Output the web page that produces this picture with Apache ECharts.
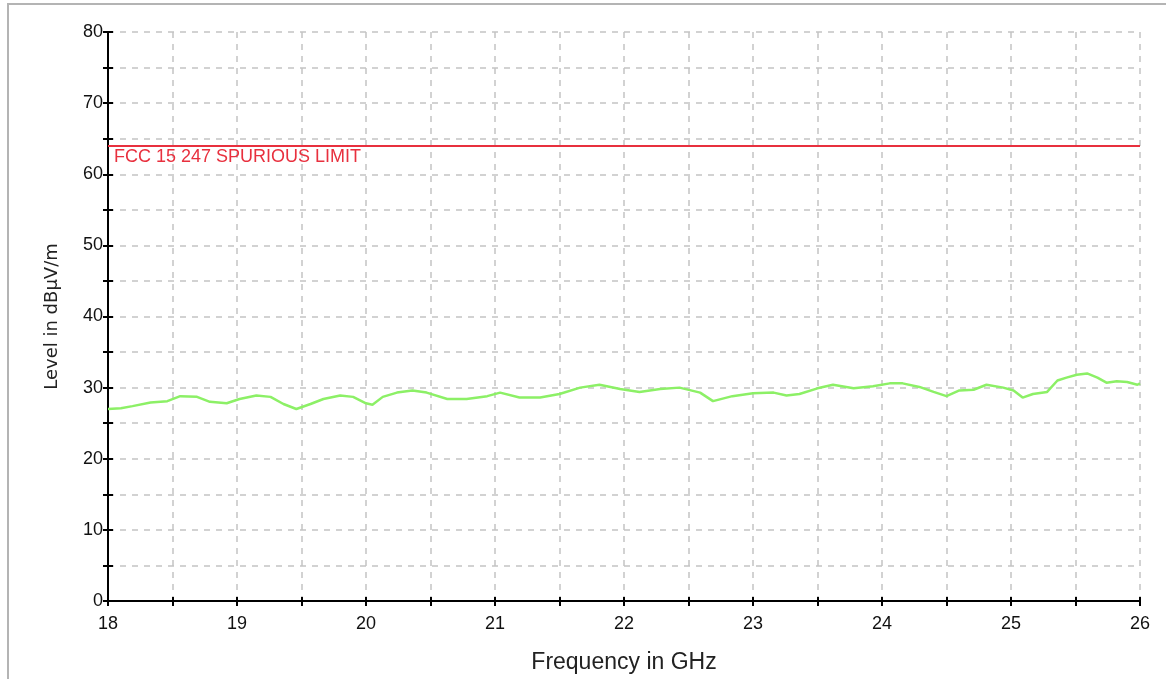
<!DOCTYPE html>
<html>
<head>
<meta charset="utf-8">
<script src="https://cdn.jsdelivr.net/npm/echarts@6/dist/echarts.min.js"></script>
<style>
  html, body { margin: 0; padding: 0; background: #fff; }
  #chart { width: 1166px; height: 679px; }
</style>
</head>
<body>
<div id="chart"></div>
<script>
// trace (GHz, dBuV/m)
var freq = [18.00, 18.10, 18.19, 18.33, 18.46, 18.56, 18.69, 18.79, 18.92, 19.02,
            19.15, 19.26, 19.36, 19.46, 19.57, 19.67, 19.80, 19.90, 20.00, 20.05,
            20.13, 20.24, 20.36, 20.47, 20.63, 20.78, 20.94, 21.04, 21.19, 21.35,
            21.50, 21.66, 21.81, 21.97, 22.12, 22.28, 22.43, 22.59, 22.69, 22.84,
            23.00, 23.16, 23.26, 23.36, 23.50, 23.62, 23.78, 23.93, 24.06, 24.16,
            24.29, 24.40, 24.50, 24.60, 24.71, 24.81, 24.94, 25.02, 25.09, 25.17,
            25.28, 25.36, 25.43, 25.51, 25.59, 25.67, 25.74, 25.82, 25.90, 25.98, 26.00];
var level = [27.0, 27.1, 27.4, 27.9, 28.1, 28.8, 28.7, 28.0, 27.8, 28.4,
             28.9, 28.7, 27.7, 27.0, 27.7, 28.4, 28.9, 28.7, 27.8, 27.6,
             28.7, 29.3, 29.6, 29.3, 28.4, 28.4, 28.8, 29.3, 28.6, 28.6,
             29.1, 30.0, 30.4, 29.8, 29.4, 29.8, 30.0, 29.3, 28.1, 28.8,
             29.2, 29.3, 28.9, 29.1, 29.9, 30.4, 29.9, 30.2, 30.6, 30.6,
             30.1, 29.4, 28.8, 29.6, 29.7, 30.4, 30.0, 29.6, 28.6, 29.1,
             29.4, 31.0, 31.4, 31.8, 32.0, 31.4, 30.7, 30.9, 30.8, 30.4, 30.6];
var limitValue = 64;
var limitName = 'FCC 15 247 SPURIOUS LIMIT';

var points = [];
for (var i = 0; i < freq.length; i++) {
    points.push([freq[i], level[i]]);
}

var gridL = 108, gridR = 26, gridT = 32, gridB = 77;
var plotW = 1166 - gridL - gridR;
var plotH = 679 - gridT - gridB;

var myEcharts = echarts.init(document.getElementById('chart'));

var tickStyle = { show: true, length: 5, lineStyle: { color: '#000', width: 2 } };
var axisLineStyle = { show: true, onZero: false, lineStyle: { color: '#000', width: 2 } };

option = {
    animation: false,
    backgroundColor: '#fff',
    textStyle: { fontFamily: 'Arial, "Liberation Sans", sans-serif' },
    graphic: [{
        type: 'rect',
        shape: { x: 8, y: 4, width: 1200, height: 700 },
        style: { fill: 'none', stroke: '#b4b4b4', lineWidth: 2 },
        silent: true, z: -1
    }],
    grid: { left: gridL, right: gridR, top: gridT, bottom: gridB },
    xAxis: [{
        type: 'value', min: 18, max: 26, interval: 0.5,
        name: 'Frequency in GHz',
        nameLocation: 'middle',
        nameGap: 50,
        nameTextStyle: { color: '#222', fontSize: 23 },
        axisLine: axisLineStyle,
        axisTick: tickStyle,
        axisLabel: {
            color: '#111', fontSize: 18, margin: 14,
            formatter: function (v) { return v % 1 === 0 ? String(v) : ''; }
        },
        splitLine: { show: true, lineStyle: { color: '#c4c4c4', type: [6, 6], width: 1.5 } }
    }, {
        // second copy moved onto the bottom edge so its ticks point into the plot
        type: 'value', min: 18, max: 26, interval: 0.5,
        position: 'top', offset: -plotH,
        axisLine: { show: false },
        axisTick: tickStyle,
        axisLabel: { show: false },
        splitLine: { show: false }
    }],
    yAxis: [{
        type: 'value', min: 0, max: 80, interval: 5,
        name: 'Level in dBµV/m',
        nameLocation: 'middle',
        nameGap: 47,
        nameTextStyle: { color: '#222', fontSize: 18, fontFamily: '"DejaVu Sans", sans-serif' },
        axisLine: axisLineStyle,
        axisTick: tickStyle,
        axisLabel: {
            color: '#111', fontSize: 18, margin: 5,
            formatter: function (v) { return v % 10 === 0 ? String(v) : ''; }
        },
        splitLine: { show: true, lineStyle: { color: '#c4c4c4', type: [6, 6], width: 1.5 } }
    }, {
        type: 'value', min: 0, max: 80, interval: 5,
        position: 'right', offset: -plotW,
        axisLine: { show: false },
        axisTick: tickStyle,
        axisLabel: { show: false },
        splitLine: { show: false }
    }],
    series: [{
        name: 'Level',
        type: 'line',
        data: points,
        showSymbol: false,
        lineStyle: { color: '#8cf066', width: 2.5 },
        markLine: {
            symbol: 'none',
            silent: true,
            data: [{ yAxis: limitValue }],
            lineStyle: { color: '#e8303e', width: 2, type: 'solid' },
            label: {
                show: true,
                formatter: limitName,
                position: 'insideStartBottom',
                distance: [6, 2],
                color: '#e8303e',
                fontSize: 18,
                fontFamily: 'Arial, "Liberation Sans", sans-serif'
            }
        }
    }]
};
//关联echarts实例与配置项
myEcharts.setOption(option);
</script>
</body>
</html>
